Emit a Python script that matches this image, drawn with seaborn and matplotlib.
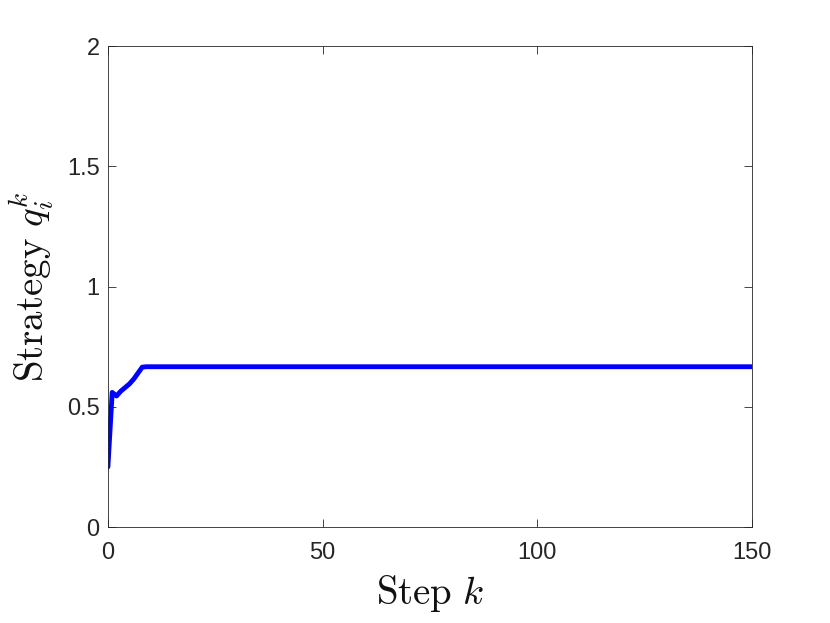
import matplotlib

matplotlib.use("Agg")
import matplotlib.pyplot as plt
import numpy as np
import pandas as pd
import seaborn as sns

# strategy q_i^k (flat after k ~ 8)
early_values = [0.25, 0.56, 0.545, 0.565, 0.58, 0.595, 0.615, 0.64, 0.665]
steady_value = 0.6667
n_steps = 151

steps = list(range(n_steps))
strategy = early_values + [steady_value] * (n_steps - len(early_values))

x_ticks = [0, 50, 100, 150]
y_ticks = [0, 0.5, 1, 1.5, 2]
y_tick_labels = ["0", "0.5", "1", "1.5", "2"]

sns.set_theme(style="ticks")
plt.rcParams["font.family"] = ["Liberation Sans", "DejaVu Sans"]
plt.rcParams["mathtext.fontset"] = "cm"
plt.rcParams["xtick.direction"] = "in"
plt.rcParams["ytick.direction"] = "in"

df = pd.DataFrame({"step": steps, "q": strategy})

fig = plt.figure(figsize=(8.3, 6.23), dpi=100)
ax = fig.add_axes([0.130, 0.154, 0.776, 0.772])
sns.lineplot(data=df, x="step", y="q", ax=ax, color="#0000ff", linewidth=3.5)

ax.set_xlim(0, 150)
ax.set_ylim(0, 2)
ax.set_xticks(x_ticks)
ax.set_xticklabels([str(t) for t in x_ticks])
ax.set_yticks(y_ticks)
ax.set_yticklabels(y_tick_labels)
ax.tick_params(axis="both", labelsize=17, colors="#262626", length=6, width=0.6,
               top=True, right=True)
ax.tick_params(axis="x", pad=11)
ax.tick_params(axis="y", pad=6)
for sp in ax.spines.values():
    sp.set_visible(True)
    sp.set_color("#262626")
    sp.set_linewidth(0.6)

ax.set_xlabel(r"$\mathrm{Step}\ k$", fontsize=28, color="#111111", labelpad=6)
ax.set_ylabel(r"$\mathrm{Strategy}\ q_i^k$", fontsize=28, color="#111111", labelpad=8)

fig.savefig("out.png", dpi=100)
